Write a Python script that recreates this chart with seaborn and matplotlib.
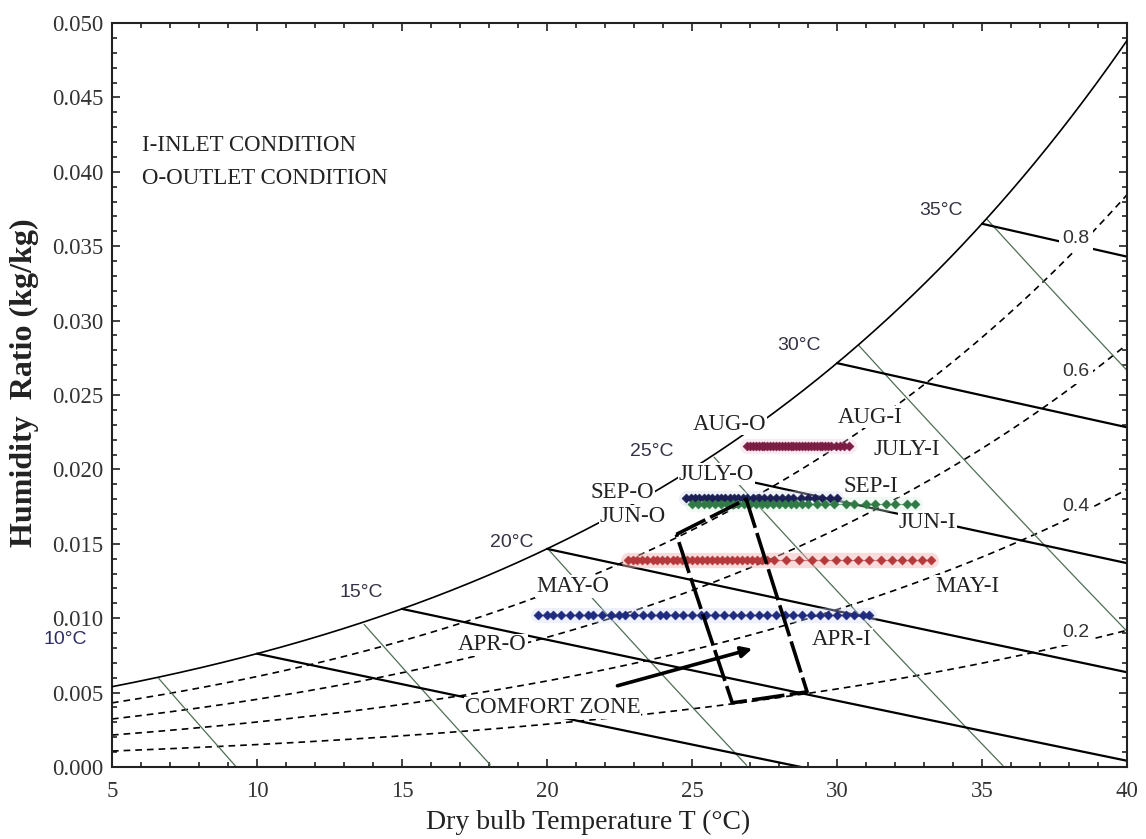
import numpy as np
import pandas as pd
import matplotlib
matplotlib.use("Agg")
import matplotlib.pyplot as plt
import seaborn as sns

# ---------------- month series (constant humidity ratio, outlet -> inlet) -------------
aug_w = 0.0216
aug_t = [26.9, 27.0, 27.1, 27.2, 27.3, 27.4, 27.5, 27.6, 27.7, 27.8, 27.9, 28.0,
         28.1, 28.2, 28.3, 28.4, 28.5, 28.6, 28.7, 28.8, 28.9, 29.0, 29.1, 29.2,
         29.3, 29.4, 29.5, 29.6, 29.7, 29.8, 29.95, 30.1, 30.25, 30.4]

jul_w = 0.0181
jul_t = [24.8, 24.95, 25.1, 25.25, 25.4, 25.55, 25.7, 25.85, 26.0, 26.15, 26.3,
         26.45, 26.6, 26.75, 26.9, 27.1, 27.3, 27.5, 27.7, 27.9, 28.1, 28.3, 28.5,
         28.75, 29.0, 29.25, 29.5, 29.75, 30.0]

sep_w = 0.01765
sep_t = [25.0, 25.2, 25.4, 25.6, 25.8, 26.0, 26.2, 26.4, 26.6, 26.8, 27.0, 27.2,
         27.4, 27.6, 27.8, 28.0, 28.2, 28.4, 28.6, 28.8, 29.0, 29.3, 29.6, 29.9,
         30.3, 30.6, 31.0, 31.3, 31.7, 32.0, 32.4, 32.7]

jun_w = 0.0139
jun_t = [22.78, 22.95, 23.12, 23.29, 23.46, 23.64, 23.81, 23.98, 24.15, 24.33,
         24.50, 24.67, 24.84, 25.01, 25.19, 25.36, 25.53, 25.70, 25.87, 26.05,
         26.22, 26.39, 26.56, 26.74, 26.91, 27.08, 27.25, 27.42, 27.60, 27.84,
         28.25, 28.70, 29.15, 29.56, 29.97, 30.35, 30.73, 31.11, 31.52, 31.90,
         32.25, 32.59, 32.94, 33.25]

may_w = 0.0102
may_t = [19.7, 20.0, 20.2, 20.5, 20.8, 21.1, 21.4, 21.6, 21.9, 22.2, 22.5, 22.7,
         23.0, 23.3, 23.6, 23.9, 24.1, 24.4, 24.7, 25.0, 25.3, 25.5, 25.8, 26.1,
         26.4, 26.7, 27.0, 27.3, 27.6, 27.9, 28.2, 28.5, 28.8, 29.1, 29.4, 29.7,
         30.0, 30.3, 30.6, 30.9, 31.1]

series_names = ["AUG", "JULY", "SEP", "JUN", "MAY"]
series_w = [aug_w, jul_w, sep_w, jun_w, may_w]
series_t = [aug_t, jul_t, sep_t, jun_t, may_t]
series_colors = ["#7b1e45", "#1b1f55", "#2f7a45", "#b5393a", "#1f2b80"]
haze_colors = ["#f0c8d8", "#d0d8f0", "#d0ecd8", "#f6b0b0", "#d0d8f6"]
haze_alpha = [0.35, 0.35, 0.3, 0.45, 0.35]

# ---------------- annotations -------------
month_labels = ["AUG-O", "AUG-I", "JULY-O", "JULY-I", "SEP-O", "SEP-I",
                "JUN-O", "JUN-I", "MAY-O", "MAY-I", "APR-O", "APR-I"]
month_label_t = [26.29, 31.15, 25.84, 32.39, 22.60, 31.18,
                 22.95, 33.11, 20.88, 34.49, 18.12, 30.18]
month_label_w = [0.02305, 0.02352, 0.01968, 0.02136, 0.01846, 0.01887,
                 0.01685, 0.01644, 0.01213, 0.01213, 0.00822, 0.00856]

# wet-bulb temperatures and their label positions
wb_temps = [10, 15, 20, 25, 30, 35]
wb_label_text = ["10°C", "15°C", "20°C", "25°C", "30°C", "35°C"]
wb_label_t = [3.38, 13.61, 18.78, 23.60, 28.70, 33.59]
wb_label_w = [0.00856, 0.01173, 0.01509, 0.02123, 0.0283, 0.0374]

# relative humidity curves and labels
rh_values = [0.2, 0.4, 0.6, 0.8]
rh_label_text = ["0.2", "0.4", "0.6", "0.8"]
rh_label_t = [38.24, 38.24, 38.24, 38.24]
rh_label_w = [0.00903, 0.01752, 0.02655, 0.0355]

# specific volume lines (m3/kg)
vol_values = [0.800, 0.825, 0.850, 0.875, 0.900, 0.925]

# comfort zone outline and pointer
cz_t = [24.46, 26.87, 28.97, 26.39, 24.46]
cz_w = [0.01563, 0.0180, 0.00505, 0.00431, 0.01563]
arrow_tail = (22.43, 0.00546)
arrow_head = (27.08, 0.00795)

x_ticks = [5, 10, 15, 20, 25, 30, 35, 40]
y_ticks = [0.000, 0.005, 0.010, 0.015, 0.020, 0.025, 0.030, 0.035, 0.040, 0.045, 0.050]

P_ATM = 101.325  # kPa


def p_sat(t):
    return 0.61094 * np.exp(17.625 * t / (t + 243.04))


def w_from_pv(pv):
    return 0.622 * pv / (P_ATM - pv)


def w_wetbulb(t, twb):
    ws = w_from_pv(p_sat(twb))
    return ((2501 - 2.326 * twb) * ws - 1.006 * (t - twb)) / (2501 + 1.86 * t - 4.186 * twb)


def w_volume(t, v):
    return (v * P_ATM / (0.287 * (t + 273.15)) - 1.0) / 1.6078


# ---------------- figure -------------
sns.set_theme(style="ticks")
plt.rcParams["font.family"] = ["Liberation Serif", "DejaVu Serif"]

fig = plt.figure(figsize=(11.46, 8.39), dpi=100)
ax = fig.add_axes([0.0977, 0.0858, 0.8857, 0.8868])
ax.set_facecolor("white")

T = np.linspace(5, 40, 500)
w_sat = w_from_pv(p_sat(T))

# saturation curve
ax.plot(T, w_sat, color="black", lw=1.2, zorder=3)

# relative humidity curves
for rh in rh_values:
    ax.plot(T, w_from_pv(rh * p_sat(T)), color="black", lw=1.2,
            linestyle=(0, (4, 3)), zorder=2)

# specific volume lines
for v in vol_values:
    wv = w_volume(T, v)
    mask = (wv <= w_sat) & (wv >= 0)
    ax.plot(T[mask], wv[mask], color="#4f6f55", lw=0.9, zorder=2)

# wet-bulb lines
for twb in wb_temps:
    tt = np.linspace(twb, 40, 300)
    ww = w_wetbulb(tt, twb)
    keep = ww >= 0
    ax.plot(tt[keep], ww[keep], color="black", lw=1.6, zorder=2)

# month series with a soft halo
for name, w, ts, col, hz, ha_ in zip(series_names, series_w, series_t,
                                     series_colors, haze_colors, haze_alpha):
    df = pd.DataFrame({"T": ts, "W": [w] * len(ts)})
    ax.plot([min(ts), max(ts)], [w, w], color=hz, lw=11, alpha=ha_,
            solid_capstyle="round", zorder=4)
    sns.lineplot(data=df, x="T", y="W", ax=ax, color=col, lw=0.8, alpha=0.6,
                 estimator=None, sort=False, zorder=5, legend=False)
    sns.scatterplot(data=df, x="T", y="W", ax=ax, color=col, marker="D", s=22,
                    edgecolor=col, linewidth=0.3, zorder=6, legend=False)

# comfort zone
cz = pd.DataFrame({"T": cz_t, "W": cz_w})
sns.lineplot(data=cz, x="T", y="W", ax=ax, color="black", lw=2.6,
             linestyle=(0, (9, 1.5)), estimator=None, sort=False, zorder=7,
             legend=False)
ax.annotate("", xy=arrow_head, xytext=arrow_tail,
            arrowprops=dict(arrowstyle="-|>", color="black", lw=2.6,
                            mutation_scale=16, shrinkA=0, shrinkB=0), zorder=7)

# text annotations
label_box = dict(facecolor="white", edgecolor="none", pad=0.5)
for txt, tx, wy in zip(month_labels, month_label_t, month_label_w):
    ax.text(tx, wy, txt, fontsize=16.5, color="#222222", ha="center", va="center",
            bbox=label_box, zorder=5.5)

ax.text(20.19, 0.00398, "COMFORT ZONE", fontsize=16.5, color="#222222",
        ha="center", va="center", bbox=label_box, zorder=5.5)
ax.text(6.05, 0.04178, "I-INLET CONDITION", fontsize=16.5, color="#222222",
        ha="left", va="center")
ax.text(6.05, 0.03956, "O-OUTLET CONDITION", fontsize=16.5, color="#222222",
        ha="left", va="center")

for i, (txt, tx, wy) in enumerate(zip(wb_label_text, wb_label_t, wb_label_w)):
    ax.text(tx, wy, txt, fontsize=14, family="Liberation Sans",
            color="#2e2e66" if i == 0 else "#333344", ha="center", va="center",
            clip_on=False, zorder=8)

for txt, tx, wy in zip(rh_label_text, rh_label_t, rh_label_w):
    ax.text(tx, wy, txt, fontsize=14, family="Liberation Sans", color="#333333",
            ha="center", va="center", bbox=dict(facecolor="white",
                                               edgecolor="none", pad=2.5),
            zorder=5.5)

# axes
ax.set_xlim(5, 40)
ax.set_ylim(0, 0.05)
ax.set_xticks(x_ticks)
ax.set_yticks(y_ticks)
ax.set_xticklabels([str(t) for t in x_ticks])
ax.set_yticklabels([f"{t:.3f}" for t in y_ticks])
ax.set_xticks(np.arange(5, 40.01, 1), minor=True)
ax.set_yticks(np.arange(0, 0.0501, 0.001), minor=True)
ax.tick_params(which="both", direction="in", top=True, right=True,
               color="#222222", width=1.2)
ax.tick_params(which="major", length=6, labelsize=16.5, labelcolor="#333333")
ax.tick_params(which="minor", length=3.5)
ax.tick_params(axis="x", which="major", pad=10)
ax.tick_params(axis="y", which="major", pad=6)
for sp in ax.spines.values():
    sp.set_visible(True)
    sp.set_linewidth(1.5)
    sp.set_color("#222222")

ax.set_xlabel("Dry bulb Temperature T (°C)", fontsize=20, color="#222222")
ax.set_ylabel("Humidity  Ratio (kg/kg)", fontsize=23, fontweight="bold",
              color="#222222")
ax.xaxis.set_label_coords(0.469, -0.058)
ax.yaxis.set_label_coords(-0.072, 0.517)

fig.savefig("out.png", dpi=100, facecolor="white")
